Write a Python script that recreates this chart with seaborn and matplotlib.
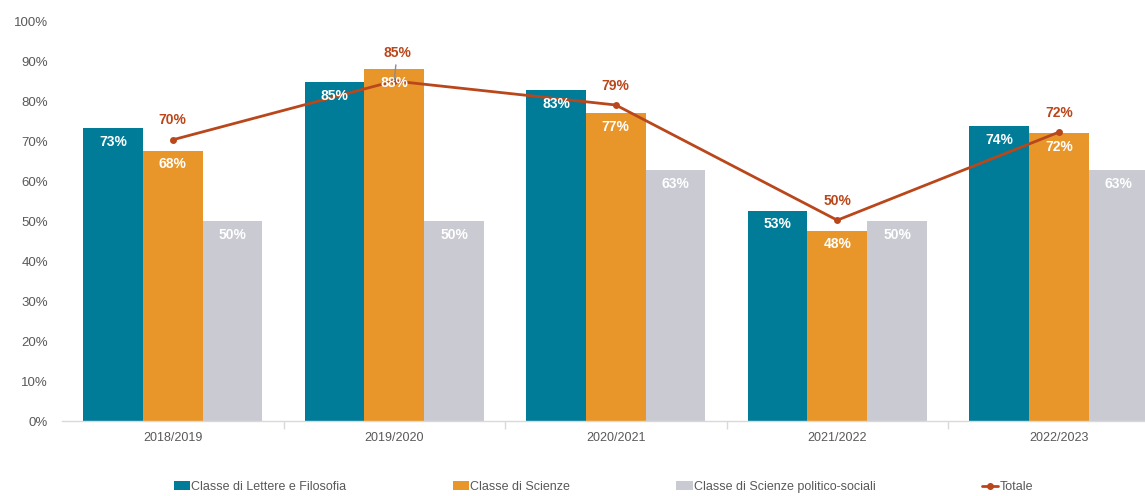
import numpy as np
import pandas as pd
import matplotlib
matplotlib.use("Agg")
import matplotlib.pyplot as plt
from matplotlib.lines import Line2D
from matplotlib.patches import Patch
import seaborn as sns

years = ["2018/2019", "2019/2020", "2020/2021", "2021/2022", "2022/2023"]
series = ["Classe di Lettere e Filosofia", "Classe di Scienze",
          "Classe di Scienze politico-sociali"]
lettere = [73.3, 84.8, 82.8, 52.6, 73.8]
scienze = [67.6, 87.9, 76.9, 47.6, 71.9]
politico = [50.0, 50.0, 62.8, 50.0, 62.8]
totale = [70.3, 85.0, 79.0, 50.2, 72.2]

colors = ["#007C98", "#E8962A", "#C9CAD2"]
line_color = "#B9471B"

sns.set_theme(style="white")
plt.rcParams["font.family"] = ["Liberation Sans", "DejaVu Sans"]

df = pd.DataFrame({
    "anno": years * 3,
    "serie": [series[0]] * 5 + [series[1]] * 5 + [series[2]] * 5,
    "valore": lettere + scienze + politico,
})

fig = plt.figure(figsize=(11.45, 4.96), dpi=100)
ax = fig.add_axes([62 / 1145, 75 / 496, 1107.5 / 1145, 400 / 496])

sns.barplot(data=df, x="anno", y="valore", hue="serie", order=years,
            hue_order=series, palette=colors, width=0.81, saturation=1,
            dodge=True, legend=False, ax=ax, errorbar=None, linewidth=0)

for cont in ax.containers:
    ax.bar_label(cont, labels=[f"{b.get_height():.0f}%" for b in cont],
                 padding=-15, color="white", fontsize=10, fontweight="bold")

xs = np.arange(len(years))
sns.lineplot(x=xs, y=totale, color=line_color, linewidth=2, marker="o",
             markersize=5, markeredgewidth=0, ax=ax)

for i, v in enumerate(totale):
    if i == 1:
        ax.annotate(f"{v:.0f}%", xy=(i, v), xytext=(2, 20),
                    textcoords="offset points", ha="center", va="center",
                    color=line_color, fontsize=10, fontweight="bold",
                    zorder=10,
                    arrowprops=dict(arrowstyle="-", color="#8C8C8C", lw=1,
                                    shrinkA=1, shrinkB=1))
    else:
        ax.annotate(f"{v:.0f}%", xy=(i, v), xytext=(0, 14),
                    textcoords="offset points", ha="center", va="center",
                    color=line_color, fontsize=10, fontweight="bold")

ax.set_xlim(-0.5, len(years) - 0.5)
ax.set_ylim(0, 100)
ax.set_yticks(range(0, 101, 10))
ax.set_yticklabels([f"{t}%" for t in range(0, 101, 10)])
ax.set_xticks(xs)
ax.set_xticklabels(years)
ax.set_xticks(np.arange(0.5, len(years) - 0.5, 1), minor=True)
ax.tick_params(axis="x", which="major", length=0, pad=8, labelsize=9,
               labelcolor="#595959")
ax.tick_params(axis="x", which="minor", length=6, color="#D9D9D9",
               bottom=True, width=1)
ax.tick_params(axis="y", length=0, pad=10, labelsize=9.5, labelcolor="#595959")
ax.set_xlabel("")
ax.set_ylabel("")
sns.despine(ax=ax, left=True)
ax.spines["bottom"].set_color("#D9D9D9")
ax.spines["bottom"].set_linewidth(1)

handles = [Patch(facecolor=c, edgecolor="none") for c in colors]
handles.append(Line2D([], [], color=line_color, linewidth=2, marker="o",
                      markersize=4))
fig.legend(handles, series + ["Totale"], loc="center", ncol=4,
           bbox_to_anchor=(0.527, 0.018), frameon=False,
           columnspacing=8.5, handlelength=1.3, handletextpad=0.1,
           prop={"family": ["Liberation Sans"], "size": 9})
for t in fig.legends[0].get_texts():
    t.set_color("#595959")

fig.savefig("out.png", dpi=100)
